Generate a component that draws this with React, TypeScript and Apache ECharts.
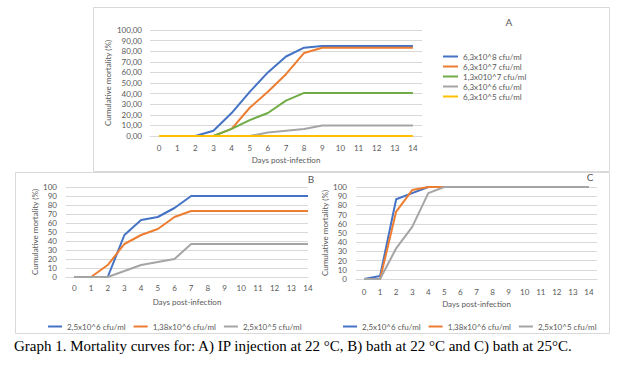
import { useEffect, useRef } from 'react';
import * as echarts from 'echarts';

const days = [0, 1, 2, 3, 4, 5, 6, 7, 8, 9, 10, 11, 12, 13, 14];
const dayLabels = days.map(String);

const namesA = ['6,3x10^8 cfu/ml', '6,3x10^7 cfu/ml', '1,3x010^7 cfu/ml', '6,3x10^6 cfu/ml', '6,3x10^5 cfu/ml'];
const a63e8 = [0, 0, 0, 5, 21.67, 41.67, 60, 75, 83.33, 85, 85, 85, 85, 85, 85];
const a63e7 = [0, 0, 0, 0, 6.67, 26.67, 41.67, 58.33, 78.33, 83.33, 83.33, 83.33, 83.33, 83.33, 83.33];
const a13e7 = [0, 0, 0, 0, 6.67, 15, 21.67, 33.33, 40.67, 40.67, 40.67, 40.67, 40.67, 40.67, 40.67];
const a63e6 = [0, 0, 0, 0, 0, 0, 3.33, 5, 6.67, 10, 10, 10, 10, 10, 10];
const a63e5 = [0, 0, 0, 0, 0, 0, 0, 0, 0, 0, 0, 0, 0, 0, 0];

const namesBC = ['2,5x10^6 cfu/ml', '1,38x10^6 cfu/ml', '2,5x10^5 cfu/ml'];
const b25e6 = [0, 0, 0, 46.67, 63.33, 66.67, 76.67, 90, 90, 90, 90, 90, 90, 90, 90];
const b138e6 = [0, 0, 13.33, 36.67, 46.67, 53.33, 66.67, 73.33, 73.33, 73.33, 73.33, 73.33, 73.33, 73.33, 73.33];
const b25e5 = [0, 0, 0, 6.67, 13.33, 16.67, 20, 36.67, 36.67, 36.67, 36.67, 36.67, 36.67, 36.67, 36.67];

const c25e6 = [0, 3.33, 86.67, 93.33, 100, 100, 100, 100, 100, 100, 100, 100, 100, 100, 100];
const c138e6 = [0, 0, 73.33, 96.67, 100, 100, 100, 100, 100, 100, 100, 100, 100, 100, 100];
const c25e5 = [0, 0, 33.33, 56.67, 93.33, 100, 100, 100, 100, 100, 100, 100, 100, 100, 100];

const colorsA = ['#4472C4', '#ED7D31', '#70AD47', '#A5A5A5', '#FFC000'];
const colorsBC = ['#4472C4', '#ED7D31', '#A5A5A5'];

const FONT = 'Lato, "Open Sans", sans-serif';
const GRAY_TXT = '#595959';
const GRID_LINE = '#d9d9d9';

export default function App() {
  const ref = useRef<HTMLDivElement>(null);
  useEffect(() => {
    if (!ref.current) return;
    const chart = echarts.init(ref.current, undefined, { renderer: 'svg' });

    const labelStyle = { color: GRAY_TXT, fontSize: 8, fontFamily: FONT };
    const nameStyle = { color: GRAY_TXT, fontSize: 8, fontFamily: FONT };

    const yAxisBase = (gridIndex: number, gap: number, margin: number, fmt?: (v: number) => string) => ({
      type: 'value',
      gridIndex,
      min: 0,
      max: 100,
      interval: 10,
      name: 'Cumulative mortality (%)',
      nameLocation: 'middle',
      nameGap: gap,
      nameTextStyle: nameStyle,
      axisLine: { show: false },
      axisTick: { show: false },
      axisLabel: { ...labelStyle, margin, formatter: fmt },
      splitLine: { lineStyle: { color: GRID_LINE, width: 1 } },
    });

    const lineSeries = (name: string, color: string, data: any[], idx: number) => ({
      type: 'line',
      name,
      data,
      xAxisIndex: idx,
      yAxisIndex: idx,
      symbol: 'none',
      lineStyle: { color, width: 2 },
      itemStyle: { color },
      emphasis: { disabled: true },
    });

    const seriesA = [a63e8, a63e7, a13e7, a63e6, a63e5].map((d, i) => lineSeries(namesA[i], colorsA[i], d, 0));
    const seriesB = [b25e6, b138e6, b25e5].map((d, i) =>
      lineSeries(namesBC[i], colorsBC[i], days.map((x, j) => [x, d[j]]), 1)
    );
    const seriesC = [c25e6, c138e6, c25e5].map((d, i) => lineSeries(namesBC[i], colorsBC[i], d, 2));

    const legendText = { color: GRAY_TXT, fontSize: 8, fontFamily: FONT, lineHeight: 9 };

    const legendBC = (left: number) => ({
      orient: 'horizontal',
      left,
      top: 317,
      icon: 'rect',
      itemWidth: 14,
      itemHeight: 2,
      itemGap: 8,
      textStyle: legendText,
      data: namesBC,
      selectedMode: false,
    });

    chart.setOption({
      animation: false,
      backgroundColor: '#ffffff',
      grid: [
        { left: 150, top: 30, width: 272, height: 106 },
        { left: 66, top: 187, width: 242, height: 90 },
        { left: 356, top: 187, width: 241, height: 92 },
      ],
      xAxis: [
        {
          type: 'category',
          gridIndex: 0,
          data: dayLabels,
          boundaryGap: true,
          name: 'Days post-infection',
          nameLocation: 'middle',
          nameGap: 20,
          nameTextStyle: nameStyle,
          axisLine: { lineStyle: { color: GRID_LINE } },
          axisTick: { show: false },
          axisLabel: { ...labelStyle, interval: 0, margin: 8 },
        },
        {
          type: 'value',
          gridIndex: 1,
          min: -0.5,
          max: 14,
          name: 'Days post-infection',
          nameLocation: 'middle',
          nameGap: 21,
          nameTextStyle: nameStyle,
          axisLine: { lineStyle: { color: GRID_LINE } },
          axisTick: { show: false },
          splitLine: { show: false },
          axisLabel: { ...labelStyle, margin: 7, customValues: days },
        },
        {
          type: 'category',
          gridIndex: 2,
          data: dayLabels,
          boundaryGap: true,
          name: 'Days post-infection',
          nameLocation: 'middle',
          nameGap: 21,
          nameTextStyle: nameStyle,
          axisLine: { lineStyle: { color: GRID_LINE } },
          axisTick: { show: false },
          axisLabel: { ...labelStyle, interval: 0, margin: 9 },
        },
      ],
      yAxis: [
        yAxisBase(0, 38, 8, (v: number) => v.toFixed(2).replace('.', ',')),
        yAxisBase(1, 25, 9),
        yAxisBase(2, 26, 9),
      ],
      legend: [
        {
          orient: 'vertical',
          left: 438,
          top: 47,
          icon: 'rect',
          itemWidth: 15,
          itemHeight: 2,
          itemGap: 1,
          textStyle: legendText,
          data: namesA,
          selectedMode: false,
        },
        legendBC(43),
        legendBC(338),
      ],
      graphic: [
        {
          type: 'rect',
          shape: { x: 93.5, y: 7.5, width: 516, height: 164 },
          style: { fill: 'none', stroke: GRID_LINE, lineWidth: 1 },
          z: -10,
        },
        {
          type: 'rect',
          shape: { x: 15.5, y: 172.5, width: 594, height: 161 },
          style: { fill: 'none', stroke: GRID_LINE, lineWidth: 1 },
          z: -10,
        },
        { type: 'text', x: 509, y: 22, style: { text: 'A', fill: GRAY_TXT, fontSize: 10, fontFamily: FONT, align: 'center', verticalAlign: 'middle' } },
        { type: 'text', x: 311, y: 179, style: { text: 'B', fill: GRAY_TXT, fontSize: 10, fontFamily: FONT, align: 'center', verticalAlign: 'middle' } },
        { type: 'text', x: 590, y: 177, style: { text: 'C', fill: GRAY_TXT, fontSize: 10, fontFamily: FONT, align: 'center', verticalAlign: 'middle' } },
        {
          type: 'text',
          x: 14,
          y: 346,
          style: {
            text: 'Graph 1. Mortality curves for: A) IP injection at 22 °C, B) bath at 22 °C and C) bath at 25°C.',
            fill: '#000000',
            fontSize: 15,
            fontFamily: '"Liberation Serif", "Times New Roman", serif',
            align: 'left',
            verticalAlign: 'middle',
          },
        },
      ],
      series: [...seriesA, ...seriesB, ...seriesC],
    });

    return () => chart.dispose();
  }, []);

  return (
    <div
      ref={ref}
      style={{ position: 'fixed', left: 0, top: 0, width: 627, height: 366, background: '#fff' }}
    />
  );
}
